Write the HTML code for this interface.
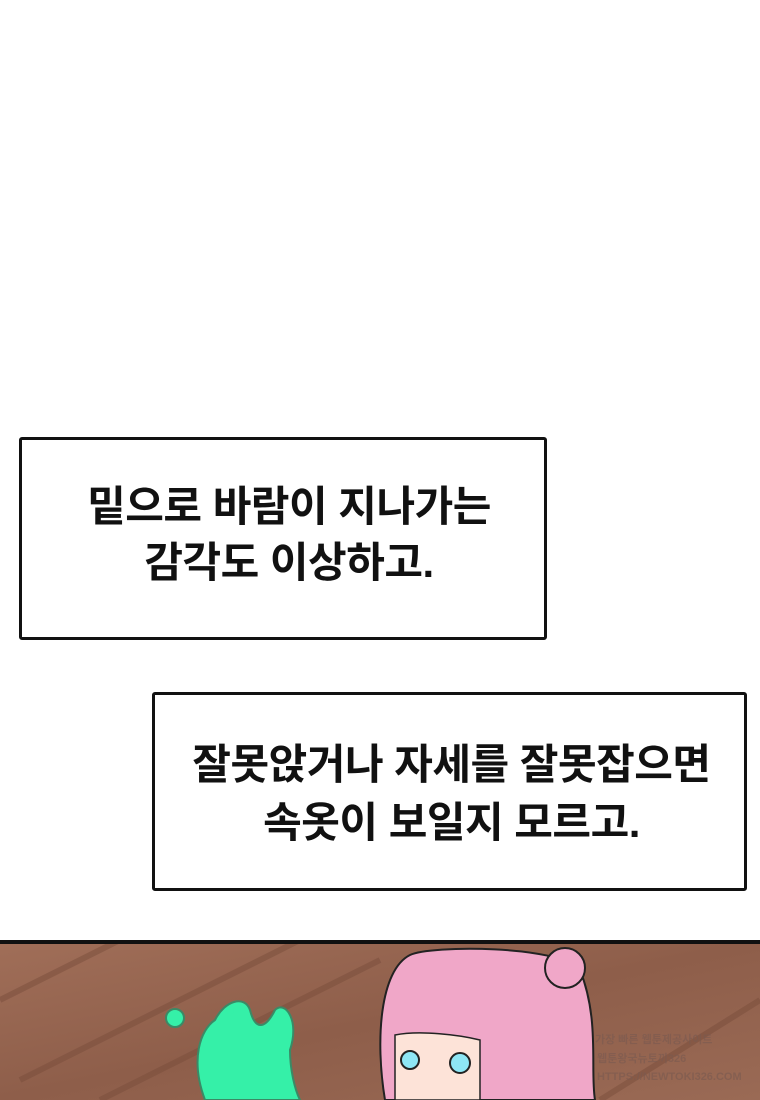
<!DOCTYPE html>
<html><head><meta charset="utf-8"><style>
body{margin:0;width:760px;height:1100px;background:#fff;position:relative;overflow:hidden;font-family:"Liberation Sans","Noto Sans CJK KR","NanumGothic",sans-serif;}
.box{position:absolute;border:3px solid #111;border-radius:3px;background:#fff;box-sizing:border-box;}
.t{position:absolute;left:0;width:100%;text-align:center;font-weight:bold;font-size:42px;line-height:50px;color:#111;letter-spacing:-0.5px;white-space:nowrap}
</style></head><body>
<div class="box" style="left:19px;top:437px;width:528px;height:203px">
<div class="t" style="top:42px;left:6px">밑으로 바람이 지나가는</div>
<div class="t" style="top:98px;left:6px">감각도 이상하고.</div>
</div>
<div class="box" style="left:152px;top:692px;width:595px;height:199px">
<div class="t" style="top:45px;left:2px">잘못앉거나 자세를 잘못잡으면</div>
<div class="t" style="top:103px;left:2px">속옷이 보일지 모르고.</div>
</div>
<svg style="position:absolute;left:0;top:940px" width="760" height="160">
<defs><linearGradient id="w" x1="0" y1="0" x2="1" y2="1"><stop offset="0" stop-color="#a06e58"/><stop offset="0.5" stop-color="#8e5e4a"/><stop offset="1" stop-color="#9a6a55"/></linearGradient></defs>
<rect x="0" y="3" width="760" height="157" fill="url(#w)"/>
<g stroke="#7a4e3c" stroke-width="6" opacity="0.5">
<line x1="0" y1="60" x2="120" y2="0"/><line x1="20" y1="140" x2="300" y2="0"/><line x1="100" y1="160" x2="380" y2="20"/><line x1="600" y1="160" x2="760" y2="60"/></g>
<rect x="0" y="0" width="760" height="4" fill="#111"/>
<path d="M205 160 C190 120 200 90 215 80 C225 60 245 55 250 70 C255 90 265 90 275 70 C285 60 300 80 290 110 C290 130 295 150 300 160Z" fill="#35f0a8" stroke="#3a8a66" stroke-width="2"/>
<circle cx="175" cy="78" r="9" fill="#35f0a8" stroke="#3a8a66" stroke-width="2"/><circle cx="230" cy="70" r="4" fill="#35f0a8"/>
<path d="M385 160 C375 100 380 30 410 15 C430 5 560 5 580 30 C600 80 590 130 595 160Z" fill="#f0a7c8" stroke="#222" stroke-width="2"/>
<circle cx="565" cy="28" r="20" fill="#f0a7c8" stroke="#222" stroke-width="2"/>
<path d="M395 160 L395 95 C420 90 460 95 480 100 L480 160Z" fill="#fde3d8" stroke="#222" stroke-width="1.5"/>
<circle cx="410" cy="120" r="9" fill="#8ee6f5" stroke="#222" stroke-width="2"/>
<circle cx="460" cy="123" r="10" fill="#8ee6f5" stroke="#222" stroke-width="2"/>
<g fill="#7a5a50" opacity="0.6" font-size="11" font-weight="bold" font-family="Liberation Sans,Noto Sans CJK KR,sans-serif">
<text x="595" y="103">가장 빠른 웹툰제공사이트</text>
<text x="597" y="122">웹툰왕국뉴토끼326</text>
<text x="597" y="140">HTTPS://NEWTOKI326.COM</text></g>
</svg>
</body></html>
